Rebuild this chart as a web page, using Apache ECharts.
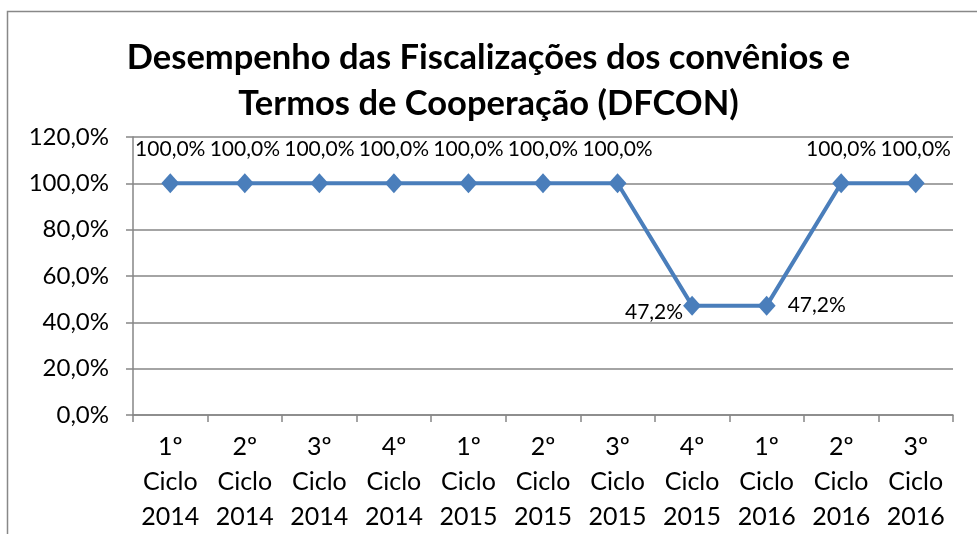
<!DOCTYPE html>
<html>
<head>
<meta charset="utf-8">
<script src="https://cdn.jsdelivr.net/npm/echarts@6/dist/echarts.min.js"></script>
<style>
  html, body { margin: 0; padding: 0; background: #fff; }
  #chart { width: 977px; height: 534px; }
</style>
</head>
<body>
<div id="chart"></div>
<script>
// ciclos de fiscalização e desempenho (%)
var categorias = ['1º\nCiclo\n2014', '2º\nCiclo\n2014', '3º\nCiclo\n2014', '4º\nCiclo\n2014',
                  '1º\nCiclo\n2015', '2º\nCiclo\n2015', '3º\nCiclo\n2015', '4º\nCiclo\n2015',
                  '1º\nCiclo\n2016', '2º\nCiclo\n2016', '3º\nCiclo\n2016'];
var desempenho = [100, 100, 100, 100, 100, 100, 100, 47.2, 47.2, 100, 100];

var fonte = 'Lato, "Open Sans", sans-serif';
var azul = '#4A7EBB';

function pct(v) {
    return v.toFixed(1).replace('.', ',') + '%';
}

var chart = echarts.init(document.getElementById('chart'));

var pontos = desempenho.map(function (v, i) {
    var item = { value: v };
    if (i === 7) {
        item.label = { position: 'left', distance: 0, offset: [0, 7] };
    } else if (i === 8) {
        item.label = { position: 'right', distance: 12 };
    }
    return item;
});

var option = {
    backgroundColor: '#fff',
    animation: false,
    graphic: [{
        type: 'rect',
        shape: { x: 7.5, y: 11.5, width: 990, height: 560 },
        style: { fill: 'none', stroke: '#888', lineWidth: 1.5 },
        silent: true
    }],
    title: {
        text: 'Desempenho das Fiscalizações dos convênios e\nTermos de Cooperação (DFCON)',
        left: 'center',
        top: 30,
        textStyle: {
            fontFamily: fonte,
            fontWeight: 'bold',
            fontSize: 34.5,
            lineHeight: 46,
            color: '#000'
        }
    },
    grid: {
        left: 133,
        right: 24,
        top: 137,
        bottom: 119
    },
    xAxis: {
        type: 'category',
        data: categorias,
        axisLine: { lineStyle: { color: '#868686', width: 1.5 } },
        axisTick: { show: true, length: 7, lineStyle: { color: '#868686', width: 1.5 } },
        axisLabel: {
            interval: 0,
            margin: 14,
            fontFamily: fonte,
            fontSize: 25,
            lineHeight: 35,
            color: '#000'
        }
    },
    yAxis: {
        type: 'value',
        min: 0,
        max: 120,
        interval: 20,
        axisLine: { show: true, lineStyle: { color: '#868686', width: 1.5 } },
        axisTick: { show: true, length: 7, lineStyle: { color: '#868686', width: 1.5 } },
        splitLine: { lineStyle: { color: '#868686', width: 1.5 } },
        axisLabel: {
            margin: 24,
            fontFamily: fonte,
            fontSize: 24,
            color: '#000',
            formatter: pct
        }
    },
    series: [{
        type: 'line',
        data: pontos,
        symbol: 'diamond',
        symbolSize: [18, 20],
        lineStyle: { color: azul, width: 4 },
        itemStyle: { color: azul },
        label: {
            show: true,
            position: 'top',
            distance: 14,
            fontFamily: fonte,
            fontSize: 21,
            color: '#000',
            formatter: function (p) { return pct(p.value); }
        }
    }]
};

chart.setOption(option);
</script>
</body>
</html>
